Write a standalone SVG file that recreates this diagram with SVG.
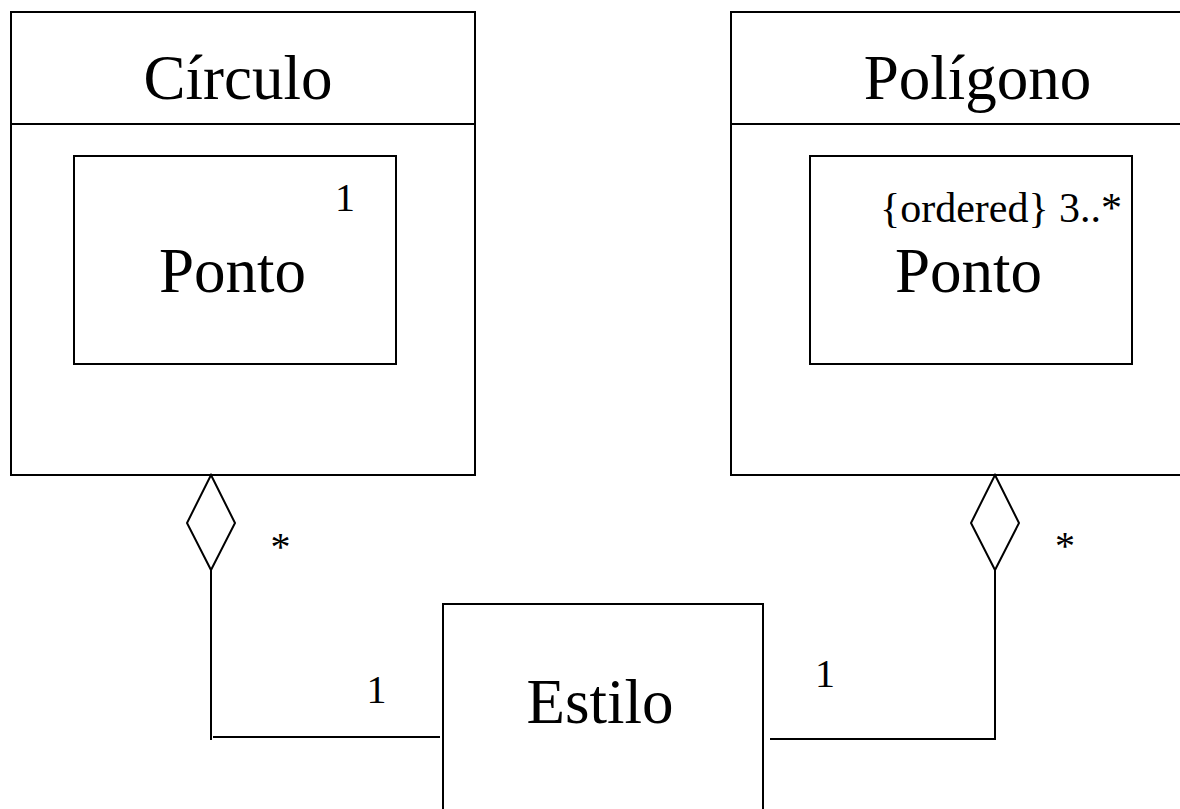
<svg xmlns="http://www.w3.org/2000/svg" width="1180" height="809" viewBox="0 0 1180 809">
  <style>
    .box { fill: #fff; stroke: #000; stroke-width: 2; }
    .ln { fill: none; stroke: #000; stroke-width: 2; }
    .dia { fill: #fff; stroke: #000; stroke-width: 2; stroke-linejoin: miter; }
    .name { font-family: "Liberation Serif", "Times New Roman", serif; font-size: 63px; fill: #000; text-anchor: middle; }
    .mult { font-family: "Liberation Serif", "Times New Roman", serif; font-size: 40px; fill: #000; text-anchor: middle; }
    .cons { font-family: "Liberation Serif", "Times New Roman", serif; font-size: 42px; fill: #000; }
  </style>
  <rect width="1180" height="809" fill="#fff"/>

  <!-- Círculo class with nested Ponto part -->
  <g id="circulo">
    <rect class="box" x="11" y="12" width="464" height="463"/>
    <line class="ln" x1="11" y1="124" x2="475" y2="124"/>
    <text class="name" x="238" y="99">Círculo</text>
  </g>
  <g id="ponto-circulo">
    <rect class="box" x="74" y="156" width="322" height="208"/>
    <text class="name" x="232.5" y="292">Ponto</text>
    <text class="mult" x="345" y="211">1</text>
  </g>

  <!-- Polígono class with nested Ponto part -->
  <g id="poligono">
    <rect class="box" x="731" y="12" width="470" height="463"/>
    <line class="ln" x1="731" y1="124" x2="1201" y2="124"/>
    <text class="name" x="977.5" y="99">Polígono</text>
  </g>
  <g id="ponto-poligono">
    <rect class="box" x="810" y="156" width="322" height="208"/>
    <text class="cons" x="880" y="222">{ordered} 3..*</text>
    <text class="name" x="968.5" y="292">Ponto</text>
  </g>

  <!-- Estilo class -->
  <g id="estilo">
    <rect class="box" x="443" y="604" width="320" height="230"/>
    <text class="name" x="600" y="723">Estilo</text>
  </g>

  <!-- Aggregation connectors -->
  <g id="connectors">
    <polygon class="dia" points="211,475 235,523 211,570 187,523"/>
    <polyline class="ln" points="211,570 211,740"/>
    <line class="ln" x1="213" y1="737" x2="440" y2="737"/>
    <text class="mult" x="280.5" y="560">*</text>
    <text class="mult" x="376.5" y="703">1</text>

    <polygon class="dia" points="995,475 1019,523 995,570 971,523"/>
    <polyline class="ln" points="995,570 995,739 770,739"/>
    <text class="mult" x="1065" y="559">*</text>
    <text class="mult" x="825" y="687">1</text>
  </g>
</svg>
